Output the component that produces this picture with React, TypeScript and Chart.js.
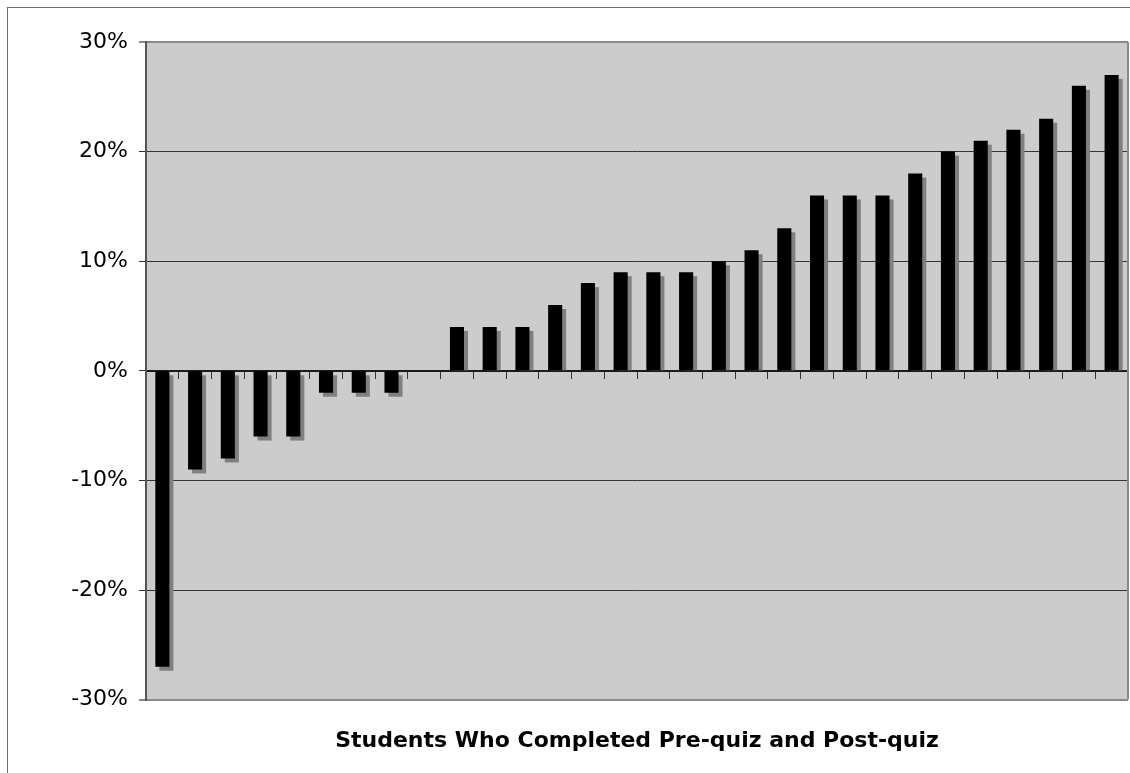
import React, { useEffect, useRef } from "react";
import { Chart, registerables } from "chart.js";

Chart.register(...registerables);

const categories: string[] = [
  "1", "2", "3", "4", "5", "6", "7", "8", "9", "10",
  "11", "12", "13", "14", "15", "16", "17", "18", "19", "20",
  "21", "22", "23", "24", "25", "26", "27", "28", "29", "30",
];

const changeValues: number[] = [
  -27, -9, -8, -6, -6, -2, -2, -2, 0, 4,
  4, 4, 6, 8, 9, 9, 9, 10, 11, 13,
  16, 16, 16, 18, 20, 21, 22, 23, 26, 27,
];

const yTicks: number[] = [-30, -20, -10, 0, 10, 20, 30];

const xTitle = "Students Who Completed Pre-quiz and Post-quiz";

const FONT = "'DejaVu Sans', Verdana, sans-serif";

const SHADOW = 4;

const framePlugin = {
  id: "frame",
  beforeDraw(chart: any) {
    const { ctx, chartArea } = chart;
    ctx.save();
    ctx.fillStyle = "#ffffff";
    ctx.fillRect(0, 0, chart.width, chart.height);
    ctx.strokeStyle = "#6e6e6e";
    ctx.lineWidth = 1;
    ctx.strokeRect(7.5, 7.5, chart.width + 20, chart.height + 20);
    ctx.fillStyle = "#cccccc";
    ctx.fillRect(
      chartArea.left,
      chartArea.top,
      chartArea.right - chartArea.left,
      chartArea.bottom - chartArea.top
    );
    ctx.restore();
  },
  beforeDatasetsDraw(chart: any) {
    const { ctx, chartArea } = chart;
    const meta = chart.getDatasetMeta(0);
    ctx.save();
    ctx.beginPath();
    ctx.rect(chartArea.left, chartArea.top, chartArea.right - chartArea.left, chartArea.bottom - chartArea.top);
    ctx.clip();
    ctx.fillStyle = "#808080";
    meta.data.forEach((bar: any) => {
      const { x, y, base, width } = bar.getProps(["x", "y", "base", "width"], true);
      if (Math.abs(y - base) < 0.5) return;
      const left = x - width / 2 + SHADOW;
      let top: number;
      let bottom: number;
      if (y < base) {
        top = y + SHADOW;
        bottom = base;
      } else {
        top = base + SHADOW;
        bottom = y + SHADOW;
      }
      ctx.fillRect(left, top, width, bottom - top);
    });
    ctx.restore();
  },
  afterDraw(chart: any) {
    const { ctx, chartArea } = chart;
    ctx.save();
    ctx.strokeStyle = "#8a8a8a";
    ctx.lineWidth = 2;
    ctx.beginPath();
    ctx.moveTo(chartArea.right, chartArea.top);
    ctx.lineTo(chartArea.right, chartArea.bottom);
    ctx.stroke();
    ctx.restore();
  },
};

export default function App() {
  const canvasRef = useRef<HTMLCanvasElement | null>(null);

  useEffect(() => {
    document.body.style.margin = "0";
    document.body.style.overflow = "hidden";
    const canvas = canvasRef.current;
    if (!canvas) return;
    const chart = new Chart(canvas, {
      type: "bar",
      data: {
        labels: categories,
        datasets: [
          {
            label: "Change",
            data: changeValues,
            backgroundColor: "#000000",
            borderWidth: 0,
            categoryPercentage: 1,
            barPercentage: 0.43,
            xAxisID: "x",
            yAxisID: "y",
          },
        ],
      },
      options: {
        animation: false,
        responsive: true,
        maintainAspectRatio: false,
        layout: { padding: { top: 42, left: 0, right: 2, bottom: 0 } },
        plugins: {
          legend: { display: false },
          tooltip: { enabled: false },
          title: { display: false },
        },
        scales: {
          x: {
            type: "category",
            position: { y: 0 } as any,
            offset: true,
            grid: {
              offset: true,
              drawOnChartArea: false,
              drawTicks: true,
              tickLength: 7,
              color: "#333333",
              lineWidth: 1,
            },
            border: { display: true, color: "#1a1a1a", width: 2 },
            ticks: { display: true, callback: () => "", padding: 0 },
          },
          x2: {
            type: "category",
            position: "bottom",
            offset: true,
            grid: { display: false, drawTicks: false, drawOnChartArea: false },
            border: { display: false },
            ticks: { display: false },
            title: {
              display: true,
              text: xTitle,
              color: "#000000",
              font: { family: FONT, size: 22, weight: "bold" },
              padding: { top: 28, bottom: 19 },
            },
          },
          y: {
            type: "linear",
            min: -30,
            max: 30,
            afterBuildTicks(scale: any) {
              scale.ticks = yTicks.map((v) => ({ value: v }));
            },
            afterFit(scale: any) {
              scale.width = 146;
            },
            grid: {
              drawTicks: true,
              tickLength: 7,
              color: (c: any) =>
                c.tick && Math.abs(c.tick.value) === 30 ? "#8a8a8a" : "#333333",
              tickColor: (c: any) =>
                c.tick && Math.abs(c.tick.value) === 30 ? "#8a8a8a" : "#333333",
              lineWidth: (c: any) =>
                c.tick && Math.abs(c.tick.value) === 30 ? 2 : 1,
            },
            border: { display: true, color: "#555555", width: 2 },
            ticks: {
              padding: 11,
              color: "#000000",
              font: { family: FONT, size: 22 },
              callback: (v: any) => `${v}%`,
            },
          },
        },
      },
      plugins: [framePlugin],
    });
    return () => chart.destroy();
  }, []);

  return (
    <div style={{ width: 1130, height: 773, position: "relative" }}>
      <canvas ref={canvasRef} />
    </div>
  );
}
